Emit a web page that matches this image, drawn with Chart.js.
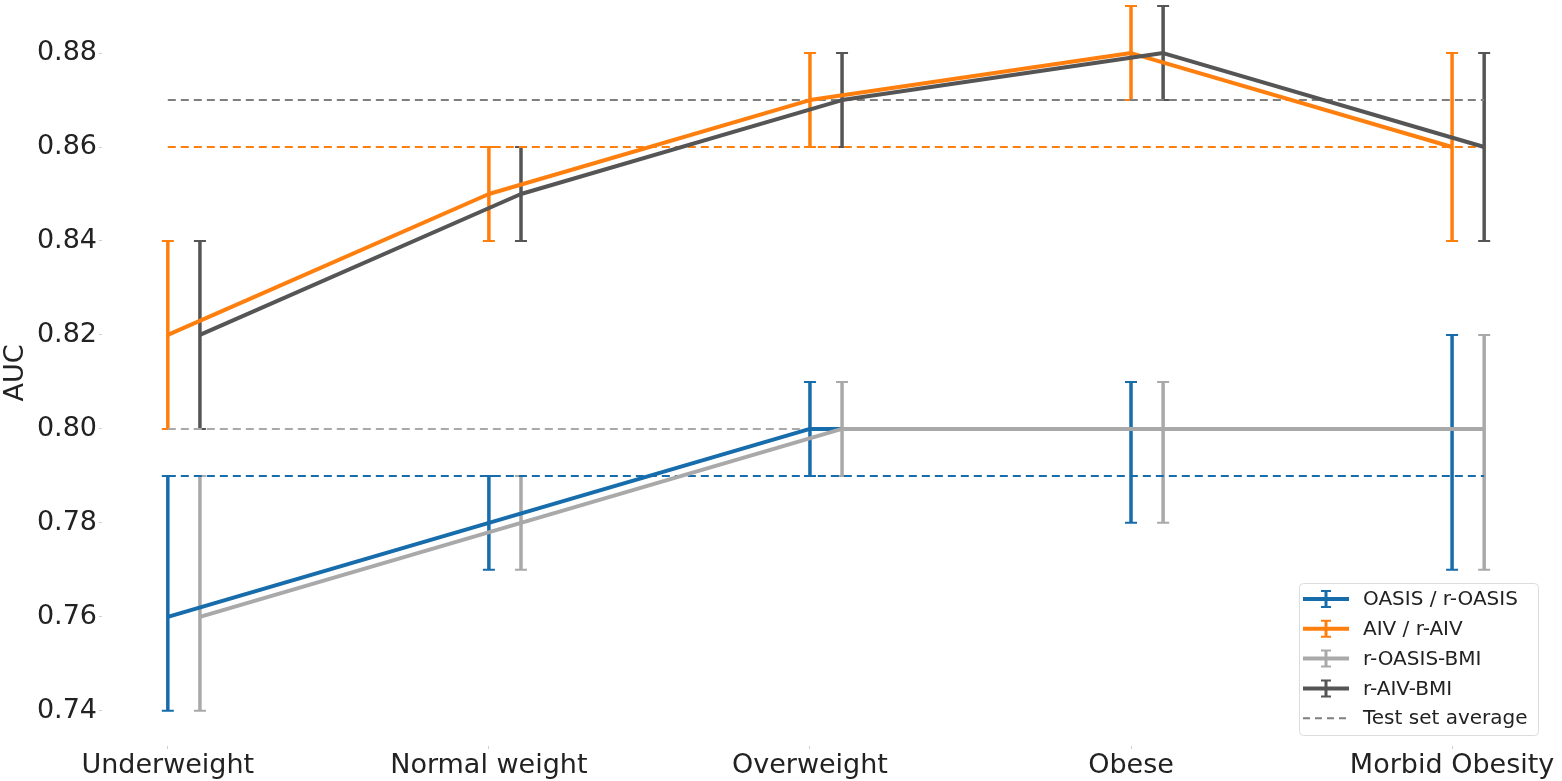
<!DOCTYPE html>
<html>
<head>
<meta charset="utf-8">
<script src="https://cdn.jsdelivr.net/npm/chart.js@4.4.1/dist/chart.umd.min.js"></script>
<style>
  html, body { margin: 0; padding: 0; background: #fff; }
  #wrap { width: 1562px; height: 781px; position: relative; }
</style>
</head>
<body>
<div id="wrap"><canvas id="chart"></canvas></div>
<script>
// categories and values
var categories = ['Underweight', 'Normal weight', 'Overweight', 'Obese', 'Morbid Obesity'];
var yTicks = [0.74, 0.76, 0.78, 0.80, 0.82, 0.84, 0.86, 0.88];

var oasis      = [0.76, 0.78, 0.80, 0.80, 0.80];
var oasisLow   = [0.74, 0.77, 0.79, 0.78, 0.77];
var oasisHigh  = [0.79, 0.79, 0.81, 0.81, 0.82];

var aiv        = [0.82, 0.85, 0.87, 0.88, 0.86];
var aivLow     = [0.80, 0.84, 0.86, 0.87, 0.84];
var aivHigh    = [0.84, 0.86, 0.88, 0.89, 0.88];

var rOasisBmi     = [0.76, 0.78, 0.80, 0.80, 0.80];
var rOasisBmiLow  = [0.74, 0.77, 0.79, 0.78, 0.77];
var rOasisBmiHigh = [0.79, 0.79, 0.81, 0.81, 0.82];

var rAivBmi     = [0.82, 0.85, 0.87, 0.88, 0.86];
var rAivBmiLow  = [0.80, 0.84, 0.86, 0.87, 0.84];
var rAivBmiHigh = [0.84, 0.86, 0.88, 0.89, 0.88];

// test set averages
var oasisAvg = 0.79;
var aivAvg = 0.86;
var rOasisBmiAvg = 0.80;
var rAivBmiAvg = 0.87;

var BLUE = '#176cab', ORANGE = '#ff7f0e', LGRAY = '#a9a9a9', DGRAY = '#555555';
var SHIFT = 0.1; // the BMI series sit a bit to the right
var FONT = 'DejaVu Sans';

function pts(vals, dx) {
    return vals.map(function (v, i) { return {x: i + dx, y: v}; });
}
function avgLine(v) {
    return [{x: 0, y: v}, {x: categories.length - 1 + SHIFT, y: v}];
}

var series = [
    {label: 'OASIS / r-OASIS', color: BLUE,   vals: oasis,     lo: oasisLow,     hi: oasisHigh,     dx: 0},
    {label: 'AIV / r-AIV',     color: ORANGE, vals: aiv,       lo: aivLow,       hi: aivHigh,       dx: 0},
    {label: 'r-OASIS-BMI',     color: LGRAY,  vals: rOasisBmi, lo: rOasisBmiLow, hi: rOasisBmiHigh, dx: SHIFT},
    {label: 'r-AIV-BMI',       color: DGRAY,  vals: rAivBmi,   lo: rAivBmiLow,   hi: rAivBmiHigh,   dx: SHIFT}
];

var errorBars = {
    id: 'errorBars',
    beforeDatasetsDraw: function (chart) {
        var c = chart.ctx, xs = chart.scales.x, ys = chart.scales.y;
        c.save();
        series.forEach(function (s) {
            c.strokeStyle = s.color;
            s.vals.forEach(function (v, i) {
                var px = xs.getPixelForValue(i + s.dx);
                var pl = ys.getPixelForValue(s.lo[i]);
                var ph = ys.getPixelForValue(s.hi[i]);
                c.lineWidth = 3.5;
                c.beginPath(); c.moveTo(px, pl); c.lineTo(px, ph); c.stroke();
                c.lineWidth = 2;
                c.beginPath();
                c.moveTo(px - 6, pl); c.lineTo(px + 6, pl);
                c.moveTo(px - 6, ph); c.lineTo(px + 6, ph);
                c.stroke();
            });
        });
        c.restore();
    }
};

var legendBox = {
    id: 'legendBox',
    afterDraw: function (chart) {
        var c = chart.ctx, a = chart.chartArea;
        var w = 239, h = 152;
        var x0 = a.right - 12 - w, y0 = a.bottom - 11 - h;
        c.save();
        c.fillStyle = 'rgba(255,255,255,0.85)';
        c.strokeStyle = '#dcdcdc';
        c.lineWidth = 1;
        c.beginPath();
        c.roundRect(x0 + 0.5, y0 + 0.5, w, h, 4);
        c.fill(); c.stroke();
        var items = series.map(function (s) { return {label: s.label, color: s.color, dash: false}; });
        items.push({label: 'Test set average', color: '#7f7f7f', dash: true});
        c.font = '20px "' + FONT + '"';
        c.textBaseline = 'middle';
        items.forEach(function (it, i) {
            var yy = y0 + 16 + i * 29.8;
            var hx1 = x0 + 4, hx2 = x0 + 50, hc = (hx1 + hx2) / 2;
            c.strokeStyle = it.color;
            if (it.dash) {
                c.lineWidth = 2;
                c.setLineDash([7, 5]);
                c.beginPath(); c.moveTo(hx1, yy); c.lineTo(hx2, yy); c.stroke();
                c.setLineDash([]);
            } else {
                c.lineWidth = 4;
                c.beginPath(); c.moveTo(hx1, yy); c.lineTo(hx2, yy); c.stroke();
                c.lineWidth = 3;
                c.beginPath(); c.moveTo(hc, yy - 8); c.lineTo(hc, yy + 8); c.stroke();
                c.lineWidth = 2;
                c.beginPath();
                c.moveTo(hc - 5, yy - 8); c.lineTo(hc + 5, yy - 8);
                c.moveTo(hc - 5, yy + 8); c.lineTo(hc + 5, yy + 8);
                c.stroke();
            }
            c.fillStyle = '#222';
            c.fillText(it.label, x0 + 64, yy + 1);
        });
        c.restore();
    }
};

var datasets = [
    {data: avgLine(oasisAvg),     borderColor: BLUE,      borderWidth: 2, borderDash: [8, 5], order: 10},
    {data: avgLine(aivAvg),       borderColor: ORANGE,    borderWidth: 2, borderDash: [8, 5], order: 10},
    {data: avgLine(rOasisBmiAvg), borderColor: LGRAY,     borderWidth: 2, borderDash: [8, 5], order: 10},
    {data: avgLine(rAivBmiAvg),   borderColor: '#7f7f7f', borderWidth: 2, borderDash: [8, 5], order: 10}
];
series.forEach(function (s, i) {
    datasets.push({
        label: s.label,
        data: pts(s.vals, s.dx),
        borderColor: s.color,
        borderWidth: 4,
        borderJoinStyle: 'round',
        order: 4 - i
    });
});

var ctx = document.getElementById('chart');
new Chart(ctx, {
    type: 'line',
    data: {datasets: datasets},
    options: {
        responsive: true,
        maintainAspectRatio: false,
        animation: false,
        events: [],
        layout: {padding: {left: 0, right: 12, top: 0, bottom: 0}},
        elements: {point: {radius: 0}, line: {tension: 0, fill: false}},
        plugins: {legend: {display: false}, tooltip: {enabled: false}},
        scales: {
            x: {
                type: 'linear',
                min: -0.205,
                max: 4.305,
                border: {display: false},
                grid: {drawOnChartArea: false, drawTicks: true, tickLength: 3, color: '#cfcfcf'},
                ticks: {
                    font: {family: FONT, size: 27},
                    color: '#222',
                    padding: 1,
                    maxRotation: 0,
                    autoSkip: false,
                    callback: function (v) { return categories[v]; }
                },
                afterBuildTicks: function (s) {
                    s.ticks = categories.map(function (c, i) { return {value: i}; });
                },
                afterFit: function (s) {
                    s.height = 35;
                    s.paddingLeft = 0; s.paddingRight = 0;
                }
            },
            y: {
                min: 0.7325,
                max: 0.8913,
                border: {display: false},
                grid: {drawOnChartArea: false, drawTicks: true, tickLength: 3, color: '#cfcfcf'},
                ticks: {
                    font: {family: FONT, size: 27},
                    color: '#222',
                    padding: 2,
                    callback: function (v) { return v.toFixed(2); }
                },
                title: {display: true, text: 'AUC', font: {family: FONT, size: 27}, color: '#222', padding: 0},
                afterBuildTicks: function (s) {
                    s.ticks = yTicks.map(function (v) { return {value: v}; });
                },
                afterFit: function (s) {
                    s.width = 102;
                    s.paddingTop = 0; s.paddingBottom = 0;
                }
            }
        }
    },
    plugins: [errorBars, legendBox]
});
</script>
</body>
</html>
